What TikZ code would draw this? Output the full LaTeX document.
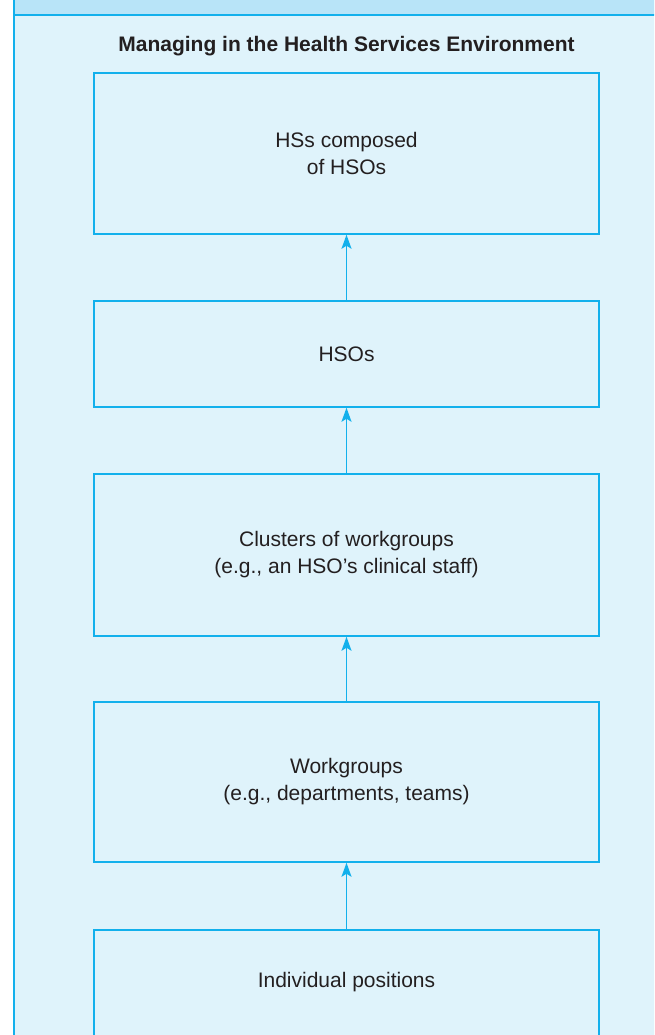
\documentclass[tikz,border=0pt]{standalone}
\usepackage{fontspec}
\setmainfont{Liberation Sans}
\usetikzlibrary{arrows.meta}
\definecolor{bg}{HTML}{DFF3FB}
\definecolor{band}{HTML}{B8E4F8}
\definecolor{ln}{HTML}{12B0EC}
\definecolor{txt}{HTML}{231F20}
\begin{document}
\begin{tikzpicture}[x=1pt,y=-1pt,
  box/.style={draw=ln, line width=1.5pt, fill=bg, minimum width=505pt, inner sep=0pt,
    font=\fontsize{21}{27}\selectfont, text=txt, align=center},
  lbl/.style={font=\fontsize{21}{27}\selectfont, text=txt, align=center, inner sep=0pt},
  arr/.style={draw=ln, line width=1.5pt, -{Stealth[length=14pt,width=10pt,inset=3pt]}}]
\useasboundingbox (0,0) rectangle (654,1035);
\begin{scope}
\clip (0,0) rectangle (654,1035);
\fill[white] (0,0) rectangle (654,1035);
\fill[bg] (14,0) rectangle (660,1040);
\fill[band] (14,0) rectangle (660,15);
\draw[ln, line width=2.2pt] (14,-2) -- (14,1040);
\draw[ln, line width=2.2pt] (14,15) -- (660,15);
\node[font=\bfseries\fontsize{21}{27}\selectfont, text=txt, inner sep=0pt] (title) at (346.5,46) {Managing in the Health Services Environment};
\node[box, minimum height=161pt] (b1) at (346.5,153.5) {HSs composed\\of HSOs};
\node[box, minimum height=106pt] (b2) at (346.5,354) {HSOs};
\node[box, minimum height=162pt] (b3) at (346.5,555) {Clusters of workgroups\\(e.g., an HSO’s clinical staff)};
\node[box, minimum height=160pt] (b4) at (346.5,782) {Workgroups\\(e.g., departments, teams)};
\node[box, minimum height=160pt, anchor=north] (b5) at (346.5,929) {};
\node[lbl] (t5) at (346.5,982) {Individual positions};
\draw[arr] (b5.north) -- (b4.south);
\draw[arr] (b4.north) -- (b3.south);
\draw[arr] (b3.north) -- (b2.south);
\draw[arr] (b2.north) -- (b1.south);
\end{scope}
\end{tikzpicture}
\end{document}
